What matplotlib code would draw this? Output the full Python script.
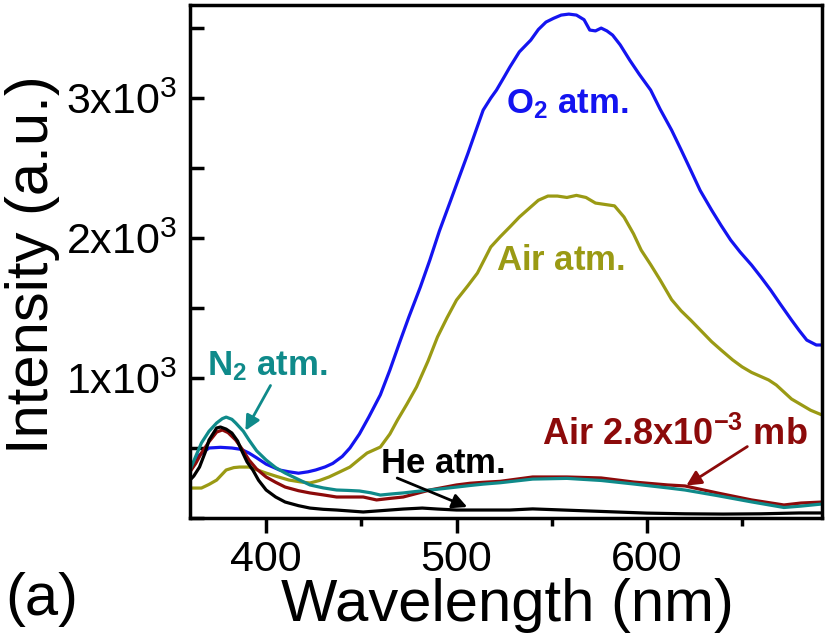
import matplotlib
matplotlib.use("Agg")
import matplotlib.pyplot as plt
from matplotlib.ticker import FixedLocator, MultipleLocator, FuncFormatter

plt.rcParams['font.family'] = ['Liberation Sans', 'DejaVu Sans']
plt.rcParams['mathtext.fontset'] = 'custom'
plt.rcParams['mathtext.rm'] = 'Liberation Sans'
plt.rcParams['mathtext.it'] = 'Liberation Sans:italic'
plt.rcParams['mathtext.bf'] = 'Liberation Sans:bold'

# spectres (longueur d'onde en nm, intensite en u.a.)
wl_o2 = [360, 365, 370, 376, 382, 387, 391, 395, 400, 407, 412, 417, 422, 426, 431, 435,
         440, 444, 449, 454, 460, 465, 470, 475, 481, 486, 491, 497, 501, 506, 510, 514,
         518, 521, 525, 528, 533, 539, 543, 547, 551, 555, 559, 563, 567, 570, 573, 576,
         579, 582, 586, 591, 596, 602, 607, 613, 618, 623, 628, 634, 639, 644, 649, 655,
         660, 665, 670, 676, 680, 684, 689, 692]
int_o2 = [364, 450, 500, 505, 500, 490, 464, 430, 385, 343, 330, 320, 330, 343, 365, 390,
          440, 500, 600, 723, 880, 1057, 1250, 1437, 1650, 1843, 2050, 2271, 2420, 2605, 2760, 2914,
          3000, 3057, 3150, 3221, 3330, 3414, 3490, 3543, 3570, 3593, 3600, 3593, 3560, 3486, 3480, 3500,
          3480, 3450, 3380, 3271, 3170, 3057, 2920, 2771, 2630, 2486, 2340, 2200, 2090, 1986, 1900, 1807,
          1720, 1629, 1530, 1414, 1340, 1271, 1236, 1236]

wl_air = [360, 366, 370, 374, 379, 383, 386, 391, 395, 400, 406, 412, 418, 423, 428, 433,
          438, 444, 449, 453, 460, 465, 469, 474, 479, 485, 490, 495, 500, 506, 511, 518,
          523, 528, 533, 538, 543, 548, 553, 558, 563, 568, 573, 578, 583, 588, 593, 597,
          602, 607, 613, 618, 623, 629, 634, 639, 645, 650, 655, 660, 664, 668, 672, 676,
          681, 686, 692]
int_air = [214, 214, 240, 271, 343, 360, 364, 364, 345, 321, 295, 271, 258, 250, 268, 293,
           325, 364, 420, 464, 507, 600, 700, 815, 936, 1120, 1293, 1430, 1557, 1660, 1750, 1936,
           2010, 2079, 2150, 2210, 2270, 2300, 2300, 2290, 2305, 2290, 2250, 2240, 2230, 2150, 2030, 1914,
           1810, 1700, 1560, 1480, 1414, 1330, 1260, 1200, 1130, 1080, 1040, 1010, 986, 950, 900, 850,
           810, 770, 736]

wl_low = [360, 363, 366, 370, 374, 377, 380, 384, 388, 391, 395, 400, 405, 410, 417, 423,
          430, 437, 444, 451, 458, 465, 472, 479, 486, 493, 500, 507, 514, 523, 540, 558,
          576, 593, 611, 620, 637, 655, 672, 681, 692]
int_low = [330, 390, 464, 545, 614, 629, 610, 557, 480, 414, 350, 293, 255, 221, 195, 179,
           165, 150, 150, 150, 129, 140, 150, 175, 200, 218, 236, 248, 255, 262, 293, 293,
           286, 257, 236, 229, 179, 129, 93, 107, 114]

wl_n2 = [360, 363, 366, 370, 374, 377, 379, 382, 384, 388, 391, 395, 400, 405, 410, 417,
         423, 430, 437, 443, 449, 455, 460, 466, 472, 479, 486, 493, 500, 507, 514, 523,
         540, 558, 576, 593, 611, 620, 637, 655, 672, 681, 692]
int_n2 = [343, 440, 536, 620, 679, 710, 721, 705, 679, 620, 557, 480, 414, 360, 321, 275,
          236, 215, 200, 197, 193, 180, 164, 172, 179, 190, 200, 210, 221, 232, 242, 252,
          278, 283, 268, 243, 215, 200, 160, 115, 75, 85, 100]

wl_he = [360, 362, 365, 368, 370, 374, 376, 379, 382, 385, 387, 390, 393, 396, 400, 405,
         410, 417, 423, 430, 437, 444, 451, 458, 465, 472, 482, 490, 500, 528, 540, 560,
         580, 600, 620, 640, 660, 680, 692]
int_he = [271, 300, 364, 470, 557, 643, 650, 635, 607, 550, 486, 400, 343, 270, 200, 150,
          114, 88, 71, 62, 57, 50, 43, 50, 57, 64, 71, 64, 57, 57, 65, 55,
          45, 35, 30, 28, 30, 36, 36]

c_o2 = '#1414f0'
c_air = '#9a9a14'
c_low = '#8c0a0a'
c_n2 = '#0f8a8a'
c_he = '#000000'

fig = plt.figure(figsize=(8.26, 6.36), dpi=100)
ax = fig.add_axes([190 / 826, 1 - 518 / 636, 632 / 826, 513 / 636])

lw = 2.3
ax.plot(wl_o2, int_o2, color=c_o2, lw=lw)
ax.plot(wl_air, int_air, color=c_air, lw=lw)
ax.plot(wl_low, int_low, color=c_low, lw=lw)
ax.plot(wl_n2, int_n2, color=c_n2, lw=lw)
ax.plot(wl_he, int_he, color=c_he, lw=lw)

ax.set_xlim(360, 692)
ax.set_ylim(0, 3665)

for s in ax.spines.values():
    s.set_linewidth(2.5)

ax.xaxis.set_major_locator(FixedLocator([400, 500, 600]))
ax.xaxis.set_minor_locator(FixedLocator([450, 550, 650]))
ax.yaxis.set_major_locator(FixedLocator([1000, 2000, 3000]))
ax.yaxis.set_minor_locator(MultipleLocator(500))
ax.yaxis.set_major_formatter(FuncFormatter(lambda v, p: r"$\mathregular{%dx10^{3}}$" % round(v / 1000)))

ax.tick_params(axis='x', which='major', direction='out', length=11, width=2.5, labelsize=31, pad=5)
ax.tick_params(axis='x', which='minor', direction='out', length=6, width=2.5)
ax.tick_params(axis='y', which='both', direction='in', length=10, width=2.5, labelsize=31, pad=9)

ax.set_xlabel("Wavelength (nm)", fontsize=43)
ax.xaxis.set_label_coords(0.502, -0.116)
ax.set_ylabel("Intensity (a.u.)", fontsize=43)
ax.yaxis.set_label_coords(-0.205, 0.493)

# annotations
ax.text(526, 2893, r"$\mathbf{O_2\ atm.}$", color=c_o2, fontsize=25, ha='left', va='baseline')
ax.text(521, 1771, r"$\mathbf{Air\ atm.}$", color=c_air, fontsize=25, ha='left', va='baseline')
ax.text(369, 1021, r"$\mathbf{N_2\ atm.}$", color=c_n2, fontsize=25, ha='left', va='baseline')
ax.text(459.6, 321, r"$\mathbf{He\ atm.}$", color=c_he, fontsize=25, ha='left', va='baseline')
ax.text(545, 521, r"$\mathbf{Air\ 2.8x10^{-3}\ mb}$", color=c_low, fontsize=26, ha='left', va='baseline')

ax.annotate('', xy=(388.4, 607), xytext=(403, 964),
            arrowprops=dict(arrowstyle='-|>', color=c_n2, lw=2, mutation_scale=22))
ax.annotate('', xy=(507, 71), xytext=(467.5, 293),
            arrowprops=dict(arrowstyle='-|>', color=c_he, lw=2, mutation_scale=22))
ax.annotate('', xy=(619.5, 221), xytext=(654, 521),
            arrowprops=dict(arrowstyle='-|>', color=c_low, lw=2, mutation_scale=22))

fig.text(5 / 826, 1 - 615 / 636, "(a)", fontsize=43, ha='left', va='baseline')

fig.savefig("out.png", dpi=100)
